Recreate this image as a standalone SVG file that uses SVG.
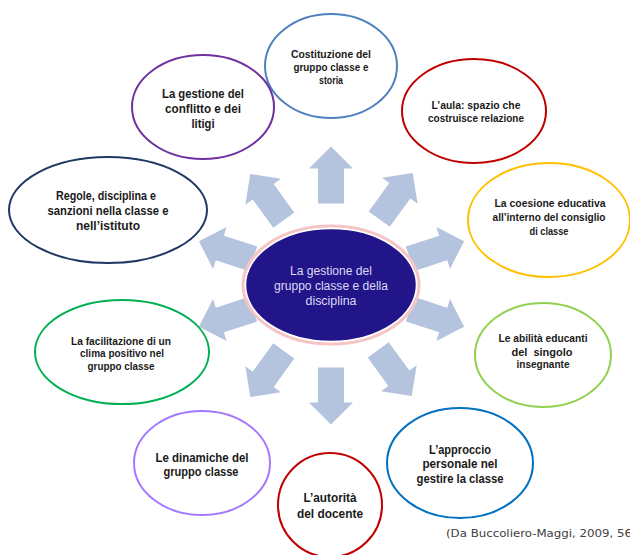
<svg xmlns="http://www.w3.org/2000/svg" width="630" height="555" viewBox="0 0 630 555">
  <defs>
    <style>
      .node { fill: #ffffff; stroke-width: 2; }
      .lb { font-family: "Liberation Sans", Arial, sans-serif; font-weight: bold; font-size: 12.5px; fill: #1a1a1a; text-anchor: middle; }
      .sm { font-family: "Liberation Sans", Arial, sans-serif; font-weight: bold; font-size: 10.5px; fill: #1a1a1a; text-anchor: middle; }
      .ct { font-family: "Liberation Sans", Arial, sans-serif; font-size: 12.5px; fill: #dcd8f4; text-anchor: middle; }
      .arrow { fill: #b4c4de; }
      .cite { font-family: "DejaVu Sans", Verdana, sans-serif; font-size: 11px; fill: #404040; }
    </style>
    <path id="arr" d="M0,-28.5 L22,-6.5 L13,-6.5 L13,28.5 L-13,28.5 L-13,-6.5 L-22,-6.5 Z"/>
  </defs>
  <rect width="630" height="555" fill="#ffffff"/>

  <g id="connectors" class="arrow">
    <use href="#arr" transform="translate(331,175)"/>
    <use href="#arr" transform="translate(396,196) rotate(36)"/>
    <use href="#arr" transform="translate(437,250) rotate(72)"/>
    <use href="#arr" transform="translate(437,318) rotate(108)"/>
    <use href="#arr" transform="translate(395,373) rotate(144)"/>
    <use href="#arr" transform="translate(331,396) rotate(180)"/>
    <use href="#arr" transform="translate(267,374) rotate(216)"/>
    <use href="#arr" transform="translate(226,318) rotate(252)"/>
    <use href="#arr" transform="translate(226,250) rotate(288)"/>
    <use href="#arr" transform="translate(267,197) rotate(324)"/>
  </g>

  <g id="center">
    <ellipse cx="331" cy="285" rx="88" ry="59" fill="none" stroke="#f6c4c4" stroke-width="3"/>
    <ellipse cx="331" cy="285" rx="85.5" ry="56.5" fill="#22158a" stroke="#ffffff" stroke-width="1.5"/>
    <text class="ct" x="331" y="274.5" textLength="82" lengthAdjust="spacingAndGlyphs">La gestione del</text>
    <text class="ct" x="331" y="289.5" textLength="114" lengthAdjust="spacingAndGlyphs">gruppo classe e della</text>
    <text class="ct" x="331" y="304.5" textLength="51" lengthAdjust="spacingAndGlyphs">disciplina</text>
  </g>

  <g id="costituzione">
    <ellipse class="node" cx="331" cy="66" rx="66" ry="52" stroke="#4f81bd"/>
    <text class="sm" x="331" y="57.7" textLength="80" lengthAdjust="spacingAndGlyphs">Costituzione del</text>
    <text class="sm" x="331" y="70.7" textLength="75" lengthAdjust="spacingAndGlyphs">gruppo classe e</text>
    <text class="sm" x="331" y="83.7" textLength="24" lengthAdjust="spacingAndGlyphs">storia</text>
  </g>

  <g id="conflitto">
    <ellipse class="node" cx="203" cy="107" rx="71" ry="52" stroke="#7030a0"/>
    <text class="lb" x="203" y="97.5" textLength="82" lengthAdjust="spacingAndGlyphs">La gestione del</text>
    <text class="lb" x="203" y="112.5" textLength="76" lengthAdjust="spacingAndGlyphs">conflitto e dei</text>
    <text class="lb" x="203" y="127.5" textLength="23" lengthAdjust="spacingAndGlyphs">litigi</text>
  </g>

  <g id="aula">
    <ellipse class="node" cx="474" cy="111" rx="72" ry="52" stroke="#c00000"/>
    <text class="sm" x="476" y="108.7" textLength="89" lengthAdjust="spacingAndGlyphs">L’aula: spazio che</text>
    <text class="sm" x="476" y="121.7" textLength="96" lengthAdjust="spacingAndGlyphs">costruisce relazione</text>
  </g>

  <g id="regole">
    <ellipse class="node" cx="108" cy="210" rx="99" ry="53" stroke="#1f3864"/>
    <text class="lb" x="106" y="199.5" textLength="100" lengthAdjust="spacingAndGlyphs">Regole, disciplina e</text>
    <text class="lb" x="108" y="214.5" textLength="121" lengthAdjust="spacingAndGlyphs">sanzioni nella classe e</text>
    <text class="lb" x="108" y="229.5" textLength="64" lengthAdjust="spacingAndGlyphs">nell’istituto</text>
  </g>

  <g id="coesione">
    <ellipse class="node" cx="549" cy="220" rx="81" ry="57" stroke="#ffc000"/>
    <text class="sm" x="550" y="206.7" textLength="111" lengthAdjust="spacingAndGlyphs">La coesione educativa</text>
    <text class="sm" x="549" y="220.7" textLength="113" lengthAdjust="spacingAndGlyphs">all’interno del consiglio</text>
    <text class="sm" x="549" y="234.7" textLength="39" lengthAdjust="spacingAndGlyphs">di classe</text>
  </g>

  <g id="facilitazione">
    <ellipse class="node" cx="122" cy="352" rx="87" ry="52" stroke="#00b050"/>
    <text class="sm" x="121" y="344.7" textLength="100" lengthAdjust="spacingAndGlyphs">La facilitazione di un</text>
    <text class="sm" x="122" y="356.7" textLength="84" lengthAdjust="spacingAndGlyphs">clima positivo nel</text>
    <text class="sm" x="121" y="369.7" textLength="67" lengthAdjust="spacingAndGlyphs">gruppo classe</text>
  </g>

  <g id="abilita">
    <ellipse class="node" cx="543" cy="355" rx="68" ry="52" stroke="#92d050"/>
    <text class="sm" x="543" y="341.7" textLength="89" lengthAdjust="spacingAndGlyphs">Le abilità educanti</text>
    <text class="sm" x="542" y="355.7" textLength="61" lengthAdjust="spacingAndGlyphs" style="white-space:pre">del  singolo</text>
    <text class="sm" x="543" y="367.7" textLength="53" lengthAdjust="spacingAndGlyphs">insegnante</text>
  </g>

  <g id="dinamiche">
    <ellipse class="node" cx="202" cy="463" rx="68" ry="52" stroke="#a478ff"/>
    <text class="lb" x="202" y="461.5" textLength="93" lengthAdjust="spacingAndGlyphs">Le dinamiche del</text>
    <text class="lb" x="201" y="475.5" textLength="75" lengthAdjust="spacingAndGlyphs">gruppo classe</text>
  </g>

  <g id="autorita">
    <ellipse class="node" cx="330" cy="505" rx="52" ry="52" stroke="#c00000"/>
    <text class="lb" x="330" y="501.5" textLength="53" lengthAdjust="spacingAndGlyphs">L’autorità</text>
    <text class="lb" x="330" y="517.5" textLength="66" lengthAdjust="spacingAndGlyphs">del docente</text>
  </g>

  <g id="approccio">
    <ellipse class="node" cx="460" cy="463" rx="73" ry="55" stroke="#0070c0"/>
    <text class="lb" x="460" y="453.5" textLength="62" lengthAdjust="spacingAndGlyphs">L’approccio</text>
    <text class="lb" x="460" y="467.5" textLength="75" lengthAdjust="spacingAndGlyphs">personale nel</text>
    <text class="lb" x="460" y="482.5" textLength="87" lengthAdjust="spacingAndGlyphs">gestire la classe</text>
  </g>

  <text id="citation" class="cite" x="446" y="537" textLength="186" lengthAdjust="spacingAndGlyphs">(Da Buccoliero-Maggi, 2009, 56</text>
</svg>
